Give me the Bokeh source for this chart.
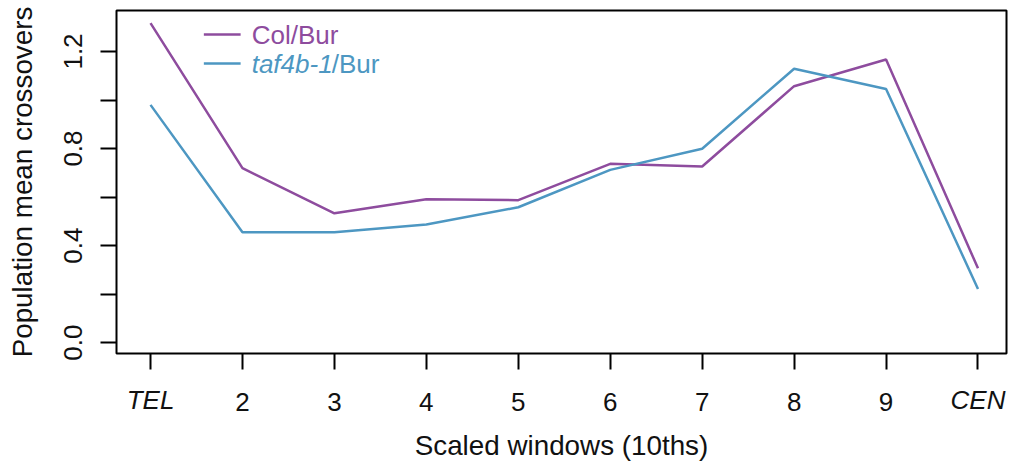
from bokeh.plotting import figure
from bokeh.models import FixedTicker, CustomJSTickFormatter, Label, Range1d, LinearAxis
from bokeh.embed import file_html
from bokeh.resources import INLINE

# Scaled windows along the chromosome arm (1 = telomere, 10 = centromere)
windows = [1, 2, 3, 4, 5, 6, 7, 8, 9, 10]
end_windows = [1, 10]
end_labels = ["TEL", "CEN"]

# Population mean crossovers per window
col_bur = [1.317, 0.719, 0.533, 0.591, 0.587, 0.737, 0.726, 1.057, 1.167, 0.306]
taf4b_bur = [0.980, 0.455, 0.455, 0.487, 0.558, 0.712, 0.799, 1.129, 1.045, 0.221]

y_ticks = [0.0, 0.2, 0.4, 0.6, 0.8, 1.0, 1.2]

PURPLE = "#8E4C9E"
BLUE = "#4D97C2"
INK = "#111111"
FONT = "Liberation Sans"
FS = "26px"
FS_TITLE = "27.8px"
LABEL_H = 29  # rendered height of a 26px tick label

X_START, X_END = 0.63, 10.31
Y_START, Y_END = -0.045, 1.369

p = figure(
    width=1012, height=465,
    output_backend="svg", toolbar_location=None,
    x_range=Range1d(X_START, X_END), y_range=Range1d(Y_START, Y_END),
    min_border_left=116, min_border_right=6,
    min_border_top=10, min_border_bottom=112,
)
p.background_fill_color = "white"
p.border_fill_color = "white"
p.outline_line_color = "black"
p.outline_line_width = 2
p.xgrid.visible = False
p.ygrid.visible = False

p.line(windows, col_bur, line_color=PURPLE, line_width=2.5)
p.line(windows, taf4b_bur, line_color=BLUE, line_width=2.5)

# x axis: ticks for every window, upright numbers for the inner windows
xa = p.xaxis[0]
xa.ticker = FixedTicker(ticks=windows)
xa.formatter = CustomJSTickFormatter(code="return (tick == 1 || tick == 10) ? '' : tick.toString();")
xa.minor_tick_line_color = None
xa.axis_line_color = None
xa.major_tick_in = 0
xa.major_tick_out = 16
xa.major_tick_line_width = 2
xa.major_label_standoff = 23
xa.major_label_text_font = FONT
xa.major_label_text_font_size = FS
xa.major_label_text_color = INK

# second x axis carrying the italic end labels, pulled up level with the numbers
xe = LinearAxis(
    ticker=FixedTicker(ticks=end_windows),
    formatter=CustomJSTickFormatter(
        args=dict(names=end_labels),
        code="return tick == 1 ? names[0] : (tick == 10 ? names[1] : '');"),
    axis_line_color=None, major_tick_line_color=None, minor_tick_line_color=None,
    major_tick_in=0, major_tick_out=0,
    major_label_standoff=-LABEL_H,
    major_label_text_font=FONT, major_label_text_font_size=FS,
    major_label_text_font_style="italic", major_label_text_color=INK,
    axis_label="Scaled windows (10ths)",
    axis_label_text_font=FONT, axis_label_text_font_size=FS_TITLE,
    axis_label_text_font_style="normal", axis_label_text_color=INK,
    axis_label_standoff=12,
)
p.add_layout(xe, "below")

# y axis: ticks every 0.2, labels every 0.4, rotated
ya = p.yaxis[0]
ya.ticker = FixedTicker(ticks=y_ticks)
ya.formatter = CustomJSTickFormatter(
    code="const k = Math.round(tick * 5); return (k % 2 == 0) ? tick.toFixed(1) : '';")
ya.minor_tick_line_color = None
ya.axis_line_color = None
ya.major_tick_in = 0
ya.major_tick_out = 16
ya.major_tick_line_width = 2
ya.major_label_orientation = "vertical"
ya.major_label_standoff = 18
ya.major_label_text_font = FONT
ya.major_label_text_font_size = FS
ya.major_label_text_color = INK
ya.axis_label = "Population mean crossovers"
ya.axis_label_text_font = FONT
ya.axis_label_text_font_size = FS_TITLE
ya.axis_label_text_font_style = "normal"
ya.axis_label_text_color = INK
ya.axis_label_standoff = 24

# legend, drawn by hand so the genotype name can be italic
LEG_X0, LEG_X1, LEG_TX = 1.58, 1.98, 2.10
LEG_Y = [1.27, 1.15]
p.segment(x0=[LEG_X0, LEG_X0], y0=LEG_Y, x1=[LEG_X1, LEG_X1], y1=LEG_Y,
          line_color=[PURPLE, BLUE], line_width=2.5)
p.add_layout(Label(x=LEG_TX, y=LEG_Y[0], text="Col/Bur", text_font=FONT,
                   text_font_size=FS, text_color=PURPLE, text_baseline="middle"))
p.add_layout(Label(x=LEG_TX, y=LEG_Y[1], text="taf4b-1", text_font=FONT,
                   text_font_size=FS, text_font_style="italic",
                   text_color=BLUE, text_baseline="middle"))
p.add_layout(Label(x=LEG_TX, y=LEG_Y[1], x_offset=80, text="/Bur", text_font=FONT,
                   text_font_size=FS, text_color=BLUE, text_baseline="middle"))

open("out.html", "w").write(file_html(p, INLINE))
